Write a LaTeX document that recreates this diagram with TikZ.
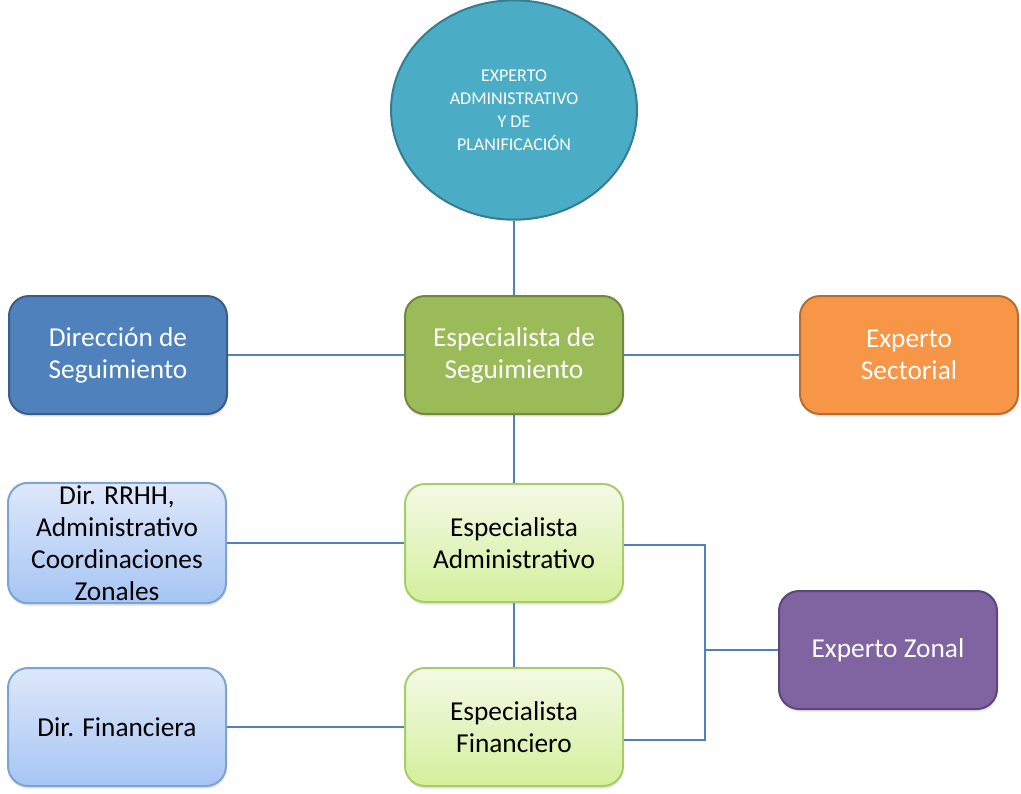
\documentclass[tikz,border=0pt]{standalone}
\usepackage{fontspec}
\setmainfont{Carlito}
\usepackage{tikz}
\usetikzlibrary{shapes}
\usetikzlibrary{shadows}

\definecolor{linkblue}{HTML}{4F81BD}
\definecolor{tealfill}{HTML}{4BACC6}
\definecolor{tealline}{HTML}{357D91}
\definecolor{bluefill}{HTML}{4F81BD}
\definecolor{blueline}{HTML}{385D8A}
\definecolor{greenfill}{HTML}{9BBB59}
\definecolor{greenline}{HTML}{71893F}
\definecolor{orangefill}{HTML}{F79646}
\definecolor{orangeline}{HTML}{B66D31}
\definecolor{purplefill}{HTML}{8064A2}
\definecolor{purpleline}{HTML}{5C4776}
\definecolor{paleblueT}{HTML}{DEE8FA}
\definecolor{paleblueB}{HTML}{A6C5F4}
\definecolor{paleblueline}{HTML}{7DA3D6}
\definecolor{palegreenT}{HTML}{F3FAE6}
\definecolor{palegreenB}{HTML}{D4EF9C}
\definecolor{palegreenline}{HTML}{A9CC6A}

\tikzset{
  unit/.style={rounded corners=15pt, minimum width=163.5pt, minimum height=88.5pt,
    align=center, line width=1.5pt, inner sep=2pt,
    font=\fontsize{20.5}{24}\selectfont,
    drop shadow={opacity=0.2, shadow xshift=0.5pt, shadow yshift=-2pt}},
  darkunit/.style={unit, text=white},
  paleblue/.style={unit, draw=paleblueline, top color=paleblueT, bottom color=paleblueB},
  palegreen/.style={unit, draw=palegreenline, top color=palegreenT, bottom color=palegreenB},
  link/.style={draw=linkblue, line width=1.6pt}
}

\begin{document}
\begin{tikzpicture}[x=0.75pt, y=-0.75pt]
\useasboundingbox (0,0) rectangle (1021,793);

\node[ellipse, draw=tealline, fill=tealfill, line width=1.5pt, text=white,
  minimum width=184.5pt, minimum height=164.5pt, inner sep=0pt, align=center,
  font=\fontsize{13.5}{17.25}\selectfont] (exp) at (514,110)
  {EXPERTO\\ADMINISTRATIVO\\Y DE\\PLANIFICACIÓN};

\node[darkunit, draw=blueline, fill=bluefill] (dseg) at (118,355) {Dirección de\\Seguimiento};
\node[darkunit, draw=greenline, fill=greenfill] (eseg) at (514,355) {Especialista de\\Seguimiento};
\node[darkunit, draw=orangeline, fill=orangefill] (esec) at (909,355) {Experto\\Sectorial};

\node[paleblue] (rrhh) at (117,543) {Dir. RRHH,\\Administrativo\\Coordinaciones\\Zonales};
\node[palegreen] (eadm) at (514,543) {Especialista\\Administrativo};
\node[paleblue] (dfin) at (117,727) {Dir. Financiera};
\node[palegreen] (efin) at (514,727) {Especialista\\Financiero};
\node[darkunit, draw=purpleline, fill=purplefill] (ezon) at (888,650) {Experto Zonal};

\coordinate (ja) at (705,545);
\coordinate (jb) at (705,740);

\foreach \p/\q in {exp.south/eseg.north, dseg.east/eseg.west, eseg.east/esec.west,
  eseg.south/eadm.north, rrhh.east/eadm.west, eadm.south/efin.north, dfin.east/efin.west}
{\draw[link] (\p) -- (\q);}
\draw[link] (eadm.east |- ja) -- (ja) -- (jb) -- (efin.east |- jb);
\draw[link] (ezon.west) -- (ja |- ezon.west);
\end{tikzpicture}
\end{document}
